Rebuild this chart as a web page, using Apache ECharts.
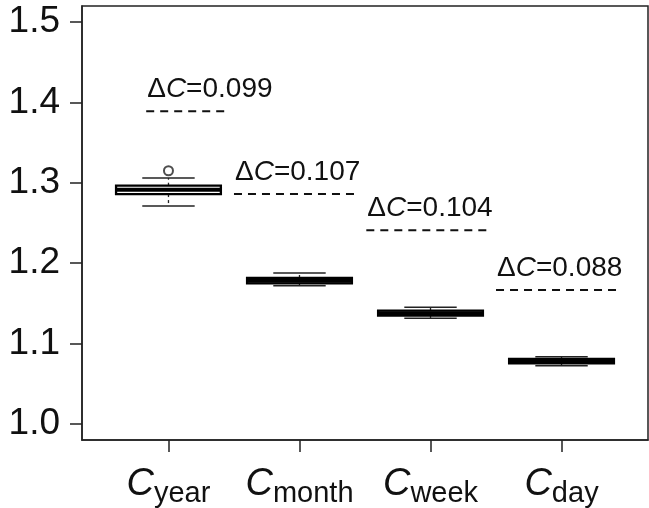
<!DOCTYPE html>
<html><head><meta charset="utf-8">
<script src="https://cdn.jsdelivr.net/npm/echarts@6/dist/echarts.min.js"></script>
<style>html,body{margin:0;padding:0;background:#fff}#c{width:649px;height:508px}</style>
</head><body><div id="c"></div>
<script>
const categories = ['year', 'month', 'week', 'day'];
const whiskerLow = [1.271, 1.172, 1.1315, 1.0725];
const q1 = [1.286, 1.175, 1.1347, 1.0755];
const median = [1.2914, 1.1782, 1.1378, 1.0784];
const q3 = [1.2964, 1.1816, 1.141, 1.0808];
const whiskerHigh = [1.306, 1.1878, 1.1451, 1.0837];
const outliers = [[1, 1.315]];
const deltaC = [0.099, 0.107, 0.104, 0.088];
const refLevel = [1.389, 1.286, 1.241, 1.1667];
const refStart = [0.83, 1.5, 2.51, 3.5];
const refEnd = [1.44, 2.44, 3.45, 4.46];
const yTicks = [1.0, 1.1, 1.2, 1.3, 1.4, 1.5];
const xTicks = [1, 2, 3, 4];

const FONT = '"Liberation Sans", Arial, Helvetica, sans-serif';
const INK = '#111';
const chart = echarts.init(document.getElementById('c'), null, {renderer: 'canvas'});

const boxData = categories.map((c, i) => [i + 1, whiskerLow[i], q1[i], median[i], q3[i], whiskerHigh[i]]);
const refData = refLevel.map((v, i) => [refStart[i], refEnd[i], v, deltaC[i]]);

const option = {
  animation: false,
  backgroundColor: '#fff',
  grid: {left: 82, right: 1, top: 6, bottom: 67, show: true, borderColor: '#222', borderWidth: 1.5, backgroundColor: 'transparent'},
  xAxis: {
    type: 'value', min: 0.34, max: 4.66,
    splitLine: {show: false},
    axisLine: {show: true, lineStyle: {color: '#222', width: 1.5}},
    axisTick: {show: true, customValues: xTicks, length: 12, lineStyle: {color: '#222', width: 1.5}},
    axisLabel: {
      customValues: xTicks, margin: 21,
      formatter: v => '{c|C}{s|' + categories[Math.round(v) - 1] + '}',
      rich: {
        c: {fontSize: 38, fontStyle: 'italic', fontFamily: FONT, color: INK},
        s: {fontSize: 29, fontFamily: FONT, color: INK, padding: [18, 0, 0, 0]}
      }
    }
  },
  yAxis: {
    type: 'value', min: 0.98, max: 1.52,
    splitLine: {show: false},
    axisLine: {show: true, lineStyle: {color: '#222', width: 1.5}},
    axisTick: {show: true, customValues: yTicks, length: 12, lineStyle: {color: '#222', width: 1.5}},
    axisLabel: {customValues: yTicks, margin: 22, fontSize: 37, fontFamily: FONT, color: INK, formatter: v => v.toFixed(1)}
  },
  series: [
    {
      type: 'custom',
      data: boxData,
      encode: {x: 0, y: [1, 2, 3, 4, 5]},
      renderItem: (params, api) => {
        const x = api.value(0);
        const pLow = api.coord([x, api.value(1)]);
        const pQ1 = api.coord([x, api.value(2)]);
        const pMed = api.coord([x, api.value(3)]);
        const pQ3 = api.coord([x, api.value(4)]);
        const pHigh = api.coord([x, api.value(5)]);
        const hw = api.size([0.4, 0])[0];
        const cw = api.size([0.2, 0])[0];
        const cx = pMed[0];
        const wStyle = {stroke: '#222', lineWidth: 1.3, lineDash: [3, 3]};
        const cStyle = {stroke: '#222', lineWidth: 1.5};
        return {type: 'group', children: [
          {type: 'line', shape: {x1: cx, y1: pQ3[1], x2: cx, y2: pHigh[1]}, style: wStyle},
          {type: 'line', shape: {x1: cx, y1: pQ1[1], x2: cx, y2: pLow[1]}, style: wStyle},
          {type: 'line', shape: {x1: cx - cw, y1: pHigh[1], x2: cx + cw, y2: pHigh[1]}, style: cStyle},
          {type: 'line', shape: {x1: cx - cw, y1: pLow[1], x2: cx + cw, y2: pLow[1]}, style: cStyle},
          {type: 'rect', shape: {x: cx - hw, y: pQ3[1], width: 2 * hw, height: pQ1[1] - pQ3[1]}, style: {fill: '#fff', stroke: '#000', lineWidth: 2.3}},
          {type: 'line', shape: {x1: cx - hw, y1: pMed[1], x2: cx + hw, y2: pMed[1]}, style: {stroke: '#000', lineWidth: 4}}
        ]};
      }
    },
    {
      type: 'scatter',
      data: outliers,
      symbol: 'emptyCircle',
      symbolSize: 9,
      itemStyle: {color: '#222', borderColor: '#222', borderWidth: 1.5}
    },
    {
      type: 'custom',
      data: refData,
      encode: {x: [0, 1], y: 2},
      renderItem: (params, api) => {
        const y = api.value(2);
        const p0 = api.coord([api.value(0), y]);
        const p1 = api.coord([api.value(1), y]);
        const d = Number(api.value(3)).toFixed(3);
        return {type: 'group', children: [
          {type: 'line', shape: {x1: p0[0], y1: p0[1], x2: p1[0], y2: p1[1]}, style: {stroke: '#111', lineWidth: 2, lineDash: [8, 6]}},
          {type: 'text', x: p0[0] + 1, y: p0[1] - 8, style: {
            text: '{n|\u0394}{i|C}{n|=' + d + '}',
            align: 'left', verticalAlign: 'bottom',
            rich: {
              n: {fontSize: 28, fontFamily: FONT, fill: INK, color: INK},
              i: {fontSize: 28, fontStyle: 'italic', fontFamily: FONT, fill: INK, color: INK}
            }
          }}
        ]};
      }
    }
  ]
};
chart.setOption(option);
</script>
</body></html>
